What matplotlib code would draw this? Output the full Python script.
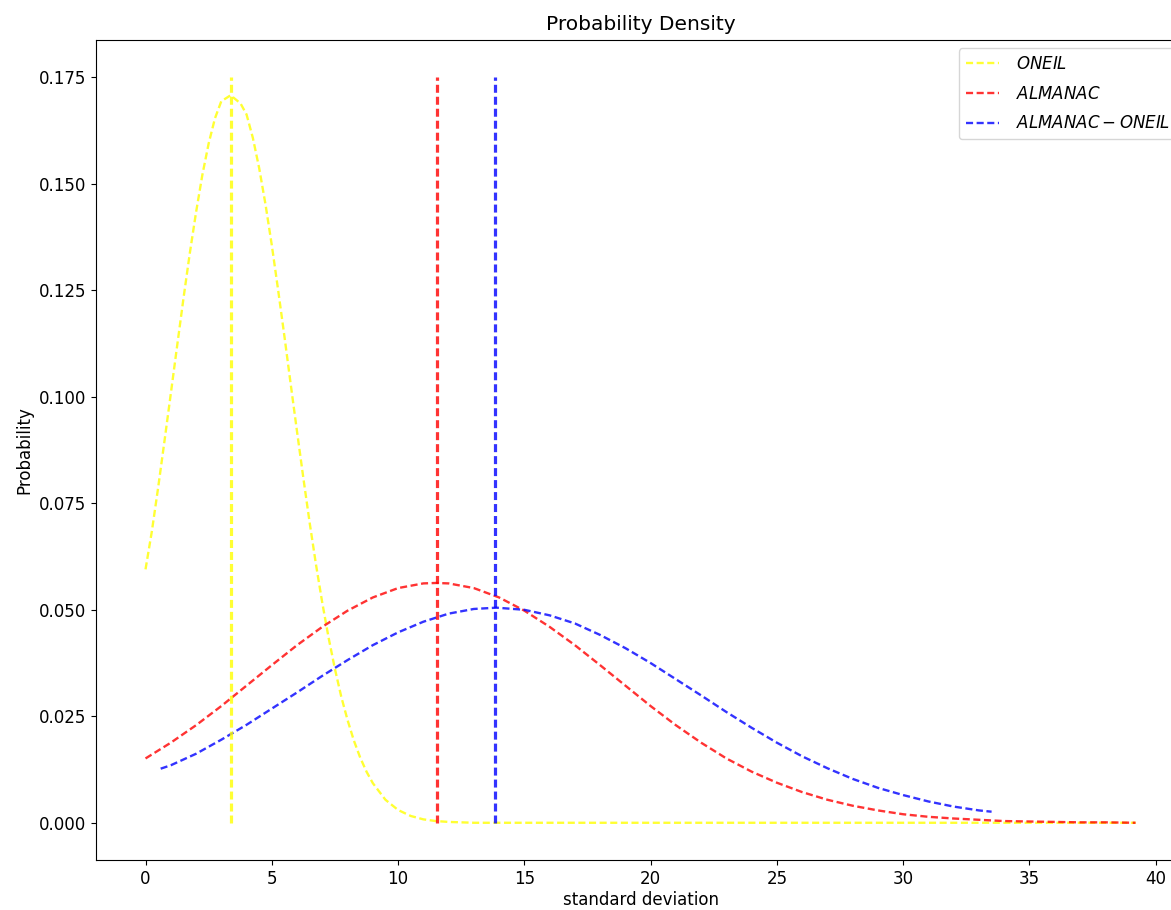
import matplotlib
matplotlib.use("Agg")
import matplotlib.pyplot as plt

# ONEIL density curve
oneil_x = [0, 0.25, 0.5, 0.75, 1.0, 1.25, 1.5, 1.75, 2.0, 2.25, 2.5, 2.75, 3.0, 3.37, 3.76,
           4.0, 4.25, 4.5, 4.75, 5.0, 5.25, 5.5, 5.75, 6.0, 6.25, 6.5, 6.75, 7.0, 7.25, 7.5,
           7.75, 8.0, 8.25, 8.5, 8.75, 9.0, 9.5, 10.0, 10.5, 11.0, 11.5, 12.0, 13.0, 15.0,
           20.0, 25.0, 30.0, 35.0, 39.2]
oneil_y = [0.0595, 0.0684, 0.0787, 0.0896, 0.1007, 0.1119, 0.1230, 0.1336, 0.1433, 0.1521,
           0.1595, 0.1654, 0.1694, 0.1708, 0.1689, 0.1663, 0.1608, 0.1537, 0.1452, 0.1356,
           0.1251, 0.1142, 0.1029, 0.0918, 0.0809, 0.0704, 0.0606, 0.0516, 0.0434, 0.0361,
           0.0296, 0.0241, 0.0193, 0.0153, 0.0120, 0.0093, 0.0054, 0.0030, 0.0016, 0.0008,
           0.0004, 0.0002, 0.0, 0.0, 0.0, 0.0, 0.0, 0.0, 0.0]

# ALMANAC density curve
almanac_x = [0, 1, 2, 3, 4, 5, 6, 7, 8, 9, 10, 11, 11.5, 12, 13, 14, 15, 16, 17, 18, 19,
             20, 21, 22, 23, 24, 25, 26, 27, 28, 29, 30, 31, 32, 33, 34, 35, 36, 37, 38, 39.2]
almanac_y = [0.0151, 0.0188, 0.0229, 0.0274, 0.0322, 0.0370, 0.0417, 0.0460, 0.0498, 0.0529,
             0.0551, 0.0562, 0.0563, 0.0562, 0.0551, 0.0529, 0.0498, 0.0460, 0.0417, 0.0370,
             0.0322, 0.0274, 0.0229, 0.0188, 0.0151, 0.0120, 0.0094, 0.0072, 0.0054, 0.0040,
             0.0029, 0.0020, 0.0014, 0.0010, 0.0007, 0.0004, 0.0003, 0.0002, 0.0001, 0.0001, 0.0]

# ALMANAC - ONEIL density curve
diff_x = [0.6, 1, 2, 3, 4, 5, 6, 7, 8, 9, 10, 11, 12, 13, 13.9, 15, 16, 17, 18, 19, 20,
          21, 22, 23, 24, 25, 26, 27, 28, 29, 30, 31, 32, 33, 33.5]
diff_y = [0.0127, 0.0135, 0.0162, 0.0195, 0.0230, 0.0268, 0.0306, 0.0345, 0.0382, 0.0417,
          0.0447, 0.0472, 0.0491, 0.0502, 0.0505, 0.0500, 0.0487, 0.0468, 0.0441, 0.0410,
          0.0375, 0.0337, 0.0299, 0.0260, 0.0223, 0.0188, 0.0156, 0.0128, 0.0103, 0.0082,
          0.0065, 0.0050, 0.0038, 0.0029, 0.0026]

# mean markers (vertical lines)
means = [3.4, 11.55, 13.85]
vline_top = 0.175

labels = ['$ONEIL$', '$ALMANAC$', '$ALMANAC-ONEIL$']
colors = ['yellow', 'red', 'blue']

fig = plt.figure(figsize=(11.71, 9.10), dpi=100)
ax = fig.add_axes([0.082, 0.0549, 0.930, 0.901])

series = [(oneil_x, oneil_y), (almanac_x, almanac_y), (diff_x, diff_y)]
for (xs, ys), c, lab in zip(series, colors, labels):
    ax.plot(xs, ys, linestyle=(0, (3.0, 1.5)), color=c, alpha=0.8, lw=1.7, label=lab)
for m, c in zip(means, colors):
    ax.vlines(m, 0, vline_top, colors=c, linestyles=[(0, (2.5, 1.25))], lw=2.3, alpha=0.8)

ax.set_xlim(-1.96, 41.16)
ax.set_ylim(-0.00875, 0.18375)
ax.set_xticks(range(0, 41, 5))
ax.set_yticks([0.0, 0.025, 0.05, 0.075, 0.1, 0.125, 0.15, 0.175])
ax.set_yticklabels(['0.000', '0.025', '0.050', '0.075', '0.100', '0.125', '0.150', '0.175'])
ax.tick_params(labelsize=12)
ax.set_xlabel('standard deviation', fontsize=12, labelpad=2)
ax.set_ylabel('Probability', fontsize=12)
ax.set_title('Probability Density', fontsize=14.5, pad=7)
ax.legend(loc='upper right', fontsize=12, labelspacing=0.7, handletextpad=1.0)

fig.savefig('out.png', dpi=100)
